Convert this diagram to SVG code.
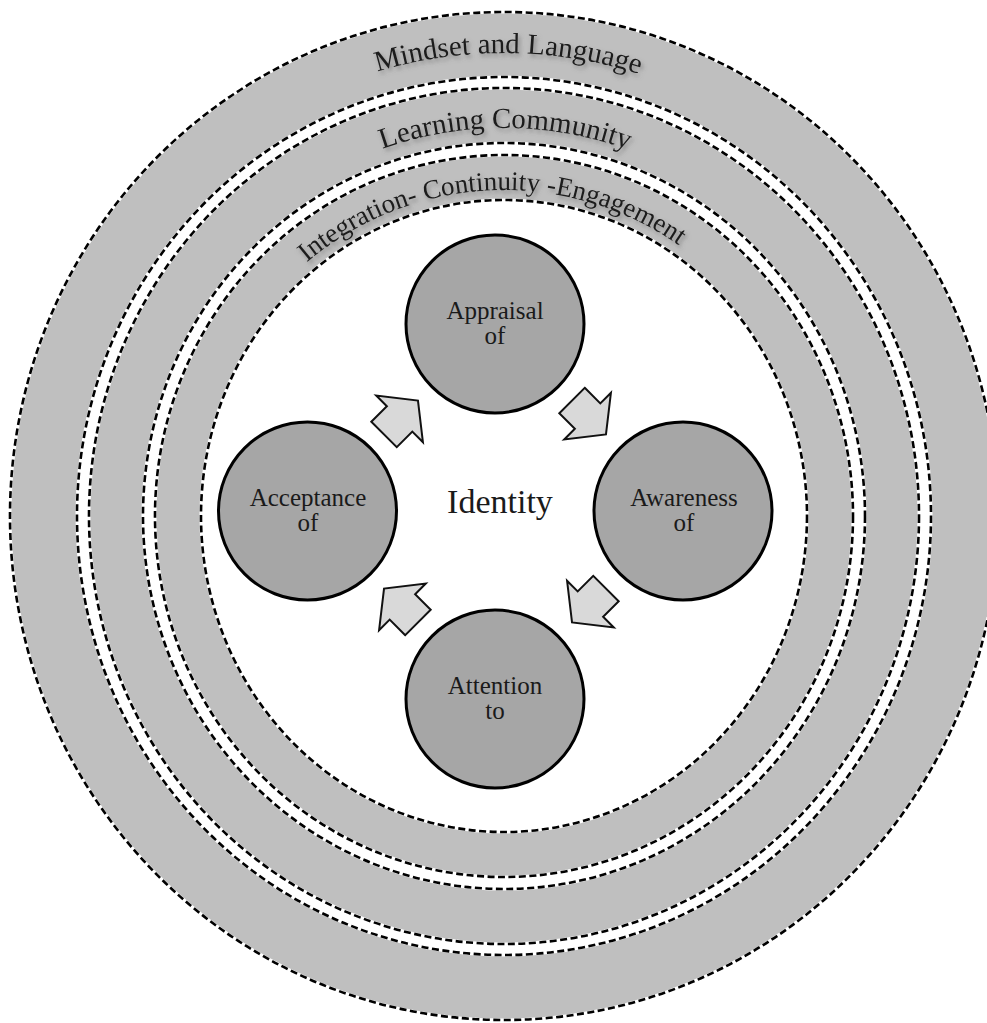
<svg xmlns="http://www.w3.org/2000/svg" width="987" height="1023" viewBox="0 0 987 1023">
  <style>
    .band { fill: #bfbfbf; }
    .gap { fill: #ffffff; }
    .edge-under { fill: none; stroke: #ffffff; stroke-width: 3; }
    .edge { fill: none; stroke: #000000; stroke-width: 2.6; stroke-dasharray: 7 3.5; }
    .ring-label { font-family: "Liberation Serif", "Times New Roman", serif; fill: #1a1a1a; }
    .node { fill: #a6a6a6; stroke: #000000; stroke-width: 3; }
    .node-label { font-family: "Liberation Serif", "Times New Roman", serif; font-size: 25px; fill: #1a1a1a; text-anchor: middle; }
    .arrow { fill: #d9d9d9; stroke: #111111; stroke-width: 2; stroke-linejoin: miter; }
  </style>
  <defs>
    <filter id="soft-shadow" x="-10%" y="-30%" width="120%" height="160%">
      <feDropShadow dx="2" dy="3" stdDeviation="2" flood-color="#555555" flood-opacity="0.55"/>
    </filter>
    <path id="arc-outer" d="M 52 516 A 452 463 0 0 1 956 516"/>
    <path id="arc-middle" d="M 127 516 A 377 388 0 0 1 881 516"/>
    <path id="arc-inner" d="M 190 516 A 314 326 0 0 1 818 516"/>
    <polygon id="block-arrow" points="-24,-18 -2,-18 -2,-33 24,0 -2,33 -2,18 -24,18"/>
  </defs>

  <rect width="987" height="1023" fill="#ffffff"/>

  <!-- concentric context rings -->
  <g id="rings">
    <ellipse class="band" cx="504" cy="516" rx="494" ry="504"/>
    <ellipse class="edge-under" cx="504" cy="516" rx="494" ry="504"/>
    <ellipse class="edge" cx="504" cy="516" rx="494" ry="504"/>

    <ellipse class="gap" cx="504" cy="516" rx="427" ry="439"/>
    <ellipse class="edge-under" cx="504" cy="516" rx="427" ry="439"/>
    <ellipse class="edge" cx="504" cy="516" rx="427" ry="439"/>

    <ellipse class="band" cx="504" cy="516" rx="415" ry="428"/>
    <ellipse class="edge-under" cx="504" cy="516" rx="415" ry="428"/>
    <ellipse class="edge" cx="504" cy="516" rx="415" ry="428"/>

    <ellipse class="gap" cx="504" cy="516" rx="361" ry="373"/>
    <ellipse class="edge-under" cx="504" cy="516" rx="361" ry="373"/>
    <ellipse class="edge" cx="504" cy="516" rx="361" ry="373"/>

    <ellipse class="band" cx="504" cy="516" rx="349" ry="361"/>
    <ellipse class="edge-under" cx="504" cy="516" rx="349" ry="361"/>
    <ellipse class="edge" cx="504" cy="516" rx="349" ry="361"/>

    <ellipse class="gap" cx="504" cy="516" rx="303" ry="316"/>
    <ellipse class="edge-under" cx="504" cy="516" rx="303" ry="316"/>
    <ellipse class="edge" cx="504" cy="516" rx="303" ry="316"/>
  </g>

  <g id="ring-labels" filter="url(#soft-shadow)">
    <text class="ring-label" font-size="29" text-anchor="middle">
      <textPath href="#arc-outer" startOffset="50.3%">Mindset and Language</textPath>
    </text>
    <text class="ring-label" font-size="29" text-anchor="middle">
      <textPath href="#arc-middle" startOffset="50.1%">Learning Community</textPath>
    </text>
    <text class="ring-label" font-size="27" text-anchor="middle">
      <textPath href="#arc-inner" startOffset="48.6%">Integration- Continuity -Engagement</textPath>
    </text>
  </g>

  <!-- centre label -->
  <g id="identity">
    <text x="500" y="513" font-family="Liberation Serif, Times New Roman, serif" font-size="34" fill="#1a1a1a" text-anchor="middle">Identity</text>
  </g>

  <!-- cycle arrows -->
  <g id="connectors">
    <use href="#block-arrow" class="arrow" transform="translate(401,417.5) rotate(-45)"/>
    <use href="#block-arrow" class="arrow" transform="translate(589,417.5) rotate(45)"/>
    <use href="#block-arrow" class="arrow" transform="translate(589,605.5) rotate(135)"/>
    <use href="#block-arrow" class="arrow" transform="translate(401,605.5) rotate(-135)"/>
  </g>

  <!-- cycle stages -->
  <g id="node-appraisal">
    <circle class="node" cx="495" cy="324" r="89"/>
    <text class="node-label" x="495" y="319">Appraisal</text>
    <text class="node-label" x="495" y="344">of</text>
  </g>
  <g id="node-awareness">
    <circle class="node" cx="683" cy="511" r="89"/>
    <text class="node-label" x="684" y="506">Awareness</text>
    <text class="node-label" x="684" y="531">of</text>
  </g>
  <g id="node-attention">
    <circle class="node" cx="495" cy="699" r="89"/>
    <text class="node-label" x="495" y="694">Attention</text>
    <text class="node-label" x="495" y="719">to</text>
  </g>
  <g id="node-acceptance">
    <circle class="node" cx="307.5" cy="511" r="89"/>
    <text class="node-label" x="308" y="506">Acceptance</text>
    <text class="node-label" x="308" y="531">of</text>
  </g>
</svg>
